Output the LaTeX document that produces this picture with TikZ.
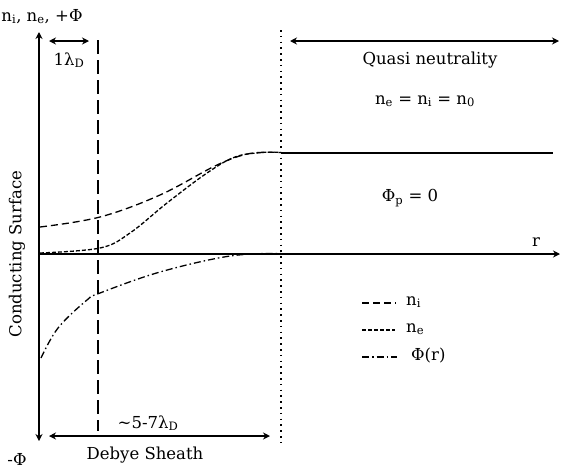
\documentclass[tikz,border=0pt]{standalone}
\usepackage{fontspec}
\setmainfont{DejaVu Serif}
\usetikzlibrary{arrows.meta}
\begin{document}
\begin{tikzpicture}[x=1pt,y=-1pt,
  axis/.style={line width=1.6pt,-{Stealth[length=7pt,width=7pt]}},
  dim/.style={line width=1.6pt,{Stealth[length=7pt,width=7pt]}-{Stealth[length=7pt,width=7pt]}},
  lbl/.style={font=\fontsize{16.5}{19}\selectfont,inner sep=1pt},
  ni/.style={line width=1.3pt,dash pattern=on 7pt off 4pt},
  ne/.style={line width=1.3pt,dash pattern=on 4pt off 2pt},
  phi/.style={line width=1.3pt,dash pattern=on 7pt off 3pt on 1.5pt off 3pt}]
\useasboundingbox (0,0) rectangle (561,469);
% axes
\coordinate (O) at (39,254);
\coordinate (top) at (39,32);
\coordinate (bot) at (39,441);
\coordinate (rend) at (560,254);
\draw[axis] (39,254) -- (top);
\draw[axis] (39,254) -- (bot);
\draw[axis] (O) -- (rend);
\node[lbl,anchor=south] (ylab) at (42,25) {n\textsubscript{i}, n\textsubscript{e}, +Φ};
\node[lbl,anchor=south] (mphi) at (17,467) {-Φ};
\node[lbl,rotate=90] (cs) at (17,254) {Conducting Surface};
\node[lbl] (r) at (536,242) {r};
% verticals
\coordinate (ld1) at (98,40);
\coordinate (ld2) at (98,431);
\draw[line width=1.5pt,dash pattern=on 14pt off 6pt] (ld1) -- (ld2);
\coordinate (dt1) at (281,30);
\coordinate (dt2) at (281,446);
\draw[line width=1.6pt,dash pattern=on 1.6pt off 4.2pt] (dt1) -- (dt2);
% dimension arrows
\coordinate (a1) at (49,41); \coordinate (a2) at (89,41);
\draw[dim] (a1) -- (a2);
\node[lbl] (oneld) at (69,60) {1λ\textsubscript{D}};
\coordinate (q1) at (290,41); \coordinate (q2) at (559,41);
\draw[dim] (q1) -- (q2);
\node[lbl] (qn) at (430,60) {Quasi neutrality};
\node[lbl] (eq) at (425,101) {n\textsubscript{e} = n\textsubscript{i} = n\textsubscript{0}};
\node[lbl] (phip) at (410,198) {Φ\textsubscript{p} = 0};
\coordinate (d1) at (49,436); \coordinate (d2) at (270,436);
\draw[dim] (d1) -- (d2);
\node[lbl] (ld) at (148,423) {\textasciitilde 5-7λ\textsubscript{D}};
\node[lbl] (ds) at (145,455) {Debye Sheath};
% plateau
\coordinate (p2) at (553,153);
\draw[line width=1.5pt] (281,153) -- (p2);
% curves
\draw[ni] plot[smooth,tension=0.6] coordinates {(40,227) (100,217) (160,195) (217,165) (250,153.5) (281,152.5)};
\draw[ne] plot[smooth,tension=0.6] coordinates {(40,253) (100,248) (130,233) (167,203) (207,173) (235,157) (262,152.5) (281,152.5)};
\draw[phi] plot[smooth,tension=0.6] coordinates {(41,358) (58,328) (87,300) (100,293) (160,272) (230,256) (281,253.5)};
% legend
\draw[ni] (362,303) -- (396,303);
\node[lbl,anchor=west] (l1) at (405,302) {n\textsubscript{i}};
\draw[ne] (362,330) -- (395,330);
\node[lbl,anchor=west] (l2) at (405,329) {n\textsubscript{e}};
\draw[phi] (362,357) -- (397,357);
\node[lbl,anchor=west] (l3) at (410,356) {Φ(r)};
\end{tikzpicture}
\end{document}
